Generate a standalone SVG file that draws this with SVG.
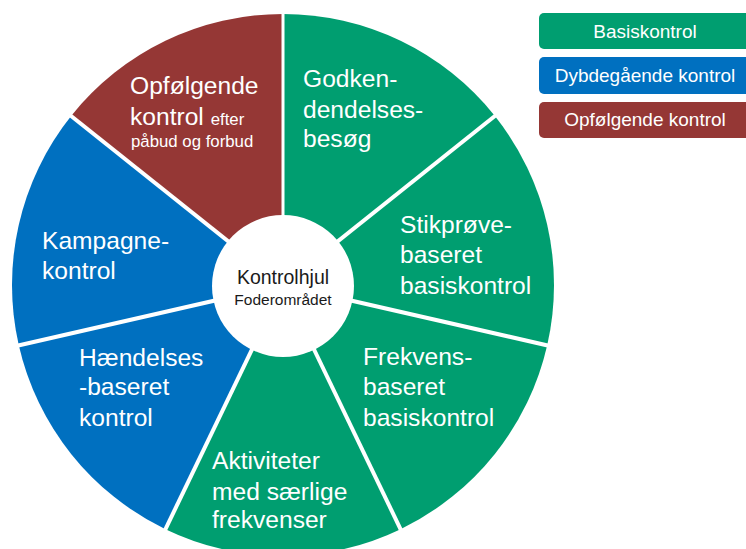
<svg xmlns="http://www.w3.org/2000/svg" width="746" height="549" viewBox="0 0 746 549">
<style>
.g{fill:#009E70}
.b{fill:#0070C0}
.r{fill:#953735}
.lbl{font-family:"Liberation Sans",Arial,sans-serif;font-size:24.6px;fill:#ffffff}
.sm{font-size:16.8px}
.ctr{font-family:"Liberation Sans",Arial,sans-serif;fill:#1a1a1a;text-anchor:middle}
.leg{font-family:"Liberation Sans",Arial,sans-serif;font-size:19px;fill:#ffffff;text-anchor:middle}
.sep{stroke:#ffffff;stroke-width:4;stroke-linecap:butt}
</style>
<rect width="746" height="549" fill="#ffffff"/>
<g id="seg-godkendelse">
<path class="g" d="M283,285 L283,14 A271,271 0 0 1 494.88,116.03 Z"/>
<text class="lbl" x="303" y="87">Godken-<tspan x="303" y="118">dendelses-</tspan><tspan x="303" y="147">besøg</tspan></text>
</g>
<g id="seg-stikproeve">
<path class="g" d="M283,285 L494.88,116.03 A271,271 0 0 1 547.21,345.30 Z"/>
<text class="lbl" x="400" y="233">Stikprøve-<tspan x="400" y="263">baseret</tspan><tspan x="400" y="294">basiskontrol</tspan></text>
</g>
<g id="seg-frekvens">
<path class="g" d="M283,285 L547.21,345.30 A271,271 0 0 1 400.58,529.16 Z"/>
<text class="lbl" x="363" y="365">Frekvens-<tspan x="363" y="395">baseret</tspan><tspan x="363" y="426">basiskontrol</tspan></text>
</g>
<g id="seg-aktiviteter">
<path class="g" d="M283,285 L400.58,529.16 A271,271 0 0 1 165.42,529.16 Z"/>
<text class="lbl" x="212" y="469">Aktiviteter<tspan x="212" y="500">med særlige</tspan><tspan x="212" y="528">frekvenser</tspan></text>
</g>
<g id="seg-haendelses">
<path class="b" d="M283,285 L165.42,529.16 A271,271 0 0 1 18.79,345.30 Z"/>
<text class="lbl" x="79" y="366">Hændelses<tspan x="79" y="395">-baseret</tspan><tspan x="79" y="426">kontrol</tspan></text>
</g>
<g id="seg-kampagne">
<path class="b" d="M283,285 L18.79,345.30 A271,271 0 0 1 71.12,116.03 Z"/>
<text class="lbl" x="42" y="249">Kampagne-<tspan x="42" y="279">kontrol</tspan></text>
</g>
<g id="seg-opfoelgende">
<path class="r" d="M283,285 L71.12,116.03 A271,271 0 0 1 283,14 Z"/>
<text class="lbl" x="130" y="94">Opfølgende<tspan x="130" y="125">kontrol </tspan><tspan class="sm">efter</tspan><tspan class="sm" x="131" y="147">påbud og forbud</tspan></text>
</g>
<g id="connectors">
<line class="sep" x1="283" y1="285" x2="283" y2="10" style="stroke-width:3"/>
<line class="sep" x1="283" y1="285" x2="498" y2="113.5"/>
<line class="sep" x1="283" y1="285" x2="551" y2="346.2"/>
<line class="sep" x1="283" y1="285" x2="402.3" y2="532.8"/>
<line class="sep" x1="283" y1="285" x2="163.7" y2="532.8"/>
<line class="sep" x1="283" y1="285" x2="15" y2="346.2"/>
<line class="sep" x1="283" y1="285" x2="68" y2="113.5"/>
</g>
<g id="hub">
<circle cx="283" cy="286" r="71" fill="#ffffff"/>
<text class="ctr" x="283" y="284" font-size="19.5">Kontrolhjul</text>
<text class="ctr" x="283" y="305" font-size="15.5">Foderområdet</text>
</g>
<g id="legend-basis">
<rect x="539" y="13" width="215" height="36" rx="5" class="g"/>
<text class="leg" x="645" y="38">Basiskontrol</text>
</g>
<g id="legend-dybde">
<rect x="539" y="57" width="215" height="37" rx="5" class="b"/>
<text class="leg" x="645" y="82">Dybdegående kontrol</text>
</g>
<g id="legend-opf">
<rect x="539" y="102" width="215" height="36" rx="5" class="r"/>
<text class="leg" x="645" y="126">Opfølgende kontrol</text>
</g>
</svg>
